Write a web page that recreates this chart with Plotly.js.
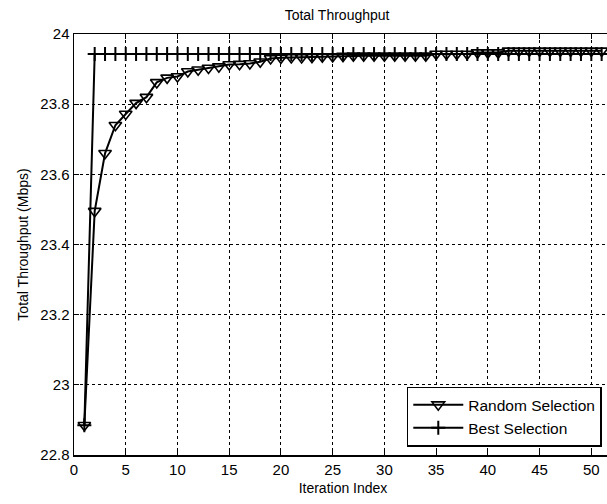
<!DOCTYPE html>
<html>
<head>
<meta charset="utf-8">
<script src="https://cdn.plot.ly/plotly-3.0.1.min.js"></script>
<style>
html, body { margin: 0; padding: 0; overflow: hidden; background: #fff; }
#chart { width: 612px; height: 504px; }
</style>
</head>
<body>
<div id="chart"></div>
<script>
var iterations = [];
for (var i = 1; i <= 51; i++) iterations.push(i);

var randomSelection = [
  22.885, 23.495, 23.660, 23.740, 23.772, 23.803, 23.820, 23.862, 23.875, 23.879,
  23.893, 23.898, 23.903, 23.907, 23.913, 23.914, 23.916, 23.921, 23.930, 23.932,
  23.933, 23.933, 23.934, 23.935, 23.936, 23.937, 23.938, 23.938, 23.938, 23.938,
  23.938, 23.938, 23.938, 23.938, 23.943, 23.943, 23.943, 23.943, 23.947, 23.947,
  23.947, 23.952, 23.952, 23.952, 23.952, 23.952, 23.952, 23.952, 23.952, 23.952,
  23.952
];

var bestSelection = [22.885];
for (var j = 2; j <= 51; j++) bestSelection.push(23.943);

var xTicks = [0, 5, 10, 15, 20, 25, 30, 35, 40, 45, 50];
var yTicks = [22.8, 23, 23.2, 23.4, 23.6, 23.8, 24];

var FONT = 'Liberation Sans, Arial, sans-serif';

var traces = [
  {
    x: iterations, y: randomSelection, name: 'Random Selection',
    type: 'scatter', mode: 'lines+markers',
    line: { color: '#000', width: 2 },
    marker: { symbol: 'triangle-down-open', size: 11, color: '#000', line: { width: 1.6, color: '#000' } }
  },
  {
    x: iterations, y: bestSelection, name: 'Best Selection',
    type: 'scatter', mode: 'lines+markers',
    line: { color: '#000', width: 2 },
    marker: { symbol: 'cross-thin-open', size: 10, color: '#000', line: { width: 2, color: '#000' } }
  }
];

var layout = {
  width: 612, height: 504,
  margin: { l: 74, r: 0, t: 34, b: 49 },
  paper_bgcolor: '#fff', plot_bgcolor: '#fff',
  font: { family: FONT, size: 15, color: '#000' },
  title: {
    text: 'Total Throughput',
    font: { family: FONT, size: 14, color: '#000' },
    xref: 'paper', x: 0.489, xanchor: 'center',
    yref: 'container', y: 0.970, yanchor: 'middle'
  },
  xaxis: {
    range: [0, 52], tickvals: xTicks,
    showline: true, linecolor: '#000', linewidth: 1.5, mirror: 'ticks',
    ticks: 'inside', ticklen: 5, tickwidth: 1, tickcolor: '#000',
    showgrid: true, gridcolor: '#000', gridwidth: 1, griddash: 'dot',
    zeroline: false,
    tickfont: { family: FONT, size: 15, color: '#000' },
    title: { text: 'Iteration Index', font: { family: FONT, size: 14, color: '#000' }, standoff: 6 }
  },
  yaxis: {
    range: [22.8, 24], tickvals: yTicks, ticktext: yTicks.map(String),
    showline: true, linecolor: '#000', linewidth: 1.5, mirror: 'ticks',
    ticks: 'inside', ticklen: 5, tickwidth: 1, tickcolor: '#000',
    showgrid: true, gridcolor: '#000', gridwidth: 1, griddash: 'dot',
    zeroline: false,
    tickfont: { family: FONT, size: 15, color: '#000' },
    title: { text: 'Total Throughput (Mbps)', font: { family: FONT, size: 14, color: '#000' }, standoff: 8 }
  },
  legend: {
    x: 0.981, xanchor: 'right', y: 0.02, yanchor: 'bottom',
    bgcolor: '#fff', bordercolor: '#000', borderwidth: 1.5,
    font: { family: FONT, size: 15.5, color: '#000' },
    itemwidth: 50, tracegroupgap: 0
  },
  showlegend: true
};

Plotly.newPlot('chart', traces, layout, { displayModeBar: false, staticPlot: true });
</script>
</body>
</html>
